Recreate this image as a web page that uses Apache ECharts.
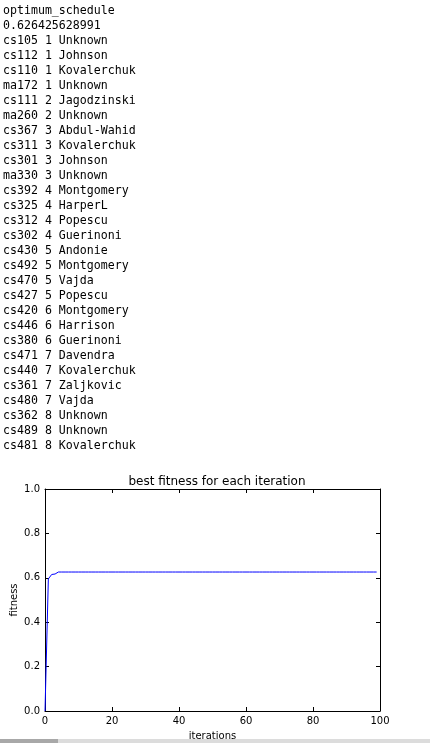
<!DOCTYPE html>
<html>
<head>
<meta charset="utf-8">
<script src="https://cdn.jsdelivr.net/npm/echarts@6/dist/echarts.min.js"></script>
<style>
html,body{margin:0;padding:0;background:#fff;width:430px;height:743px;overflow:hidden;}
#out{position:absolute;left:3px;top:3px;margin:0;font-family:"DejaVu Sans Mono","Liberation Mono",monospace;font-size:11.6px;line-height:15px;color:#000;white-space:pre;}
#chart{position:absolute;left:0;top:0;width:430px;height:743px;}
#sb{position:absolute;left:0;top:739px;width:430px;height:4px;background:#dcdcdc;}
#sbt{position:absolute;left:0;top:739px;width:58px;height:4px;background:#a8a8a8;}
</style>
</head>
<body>
<div id="chart"></div>
<pre id="out"></pre>
<div id="sb"></div><div id="sbt"></div>
<script>
// printed output
const headerLines = ["optimum_schedule", "0.626425628991"];
const courses = ["cs105","cs112","cs110","ma172","cs111","ma260","cs367","cs311","cs301","ma330","cs392","cs325","cs312","cs302","cs430","cs492","cs470","cs427","cs420","cs446","cs380","cs471","cs440","cs361","cs480","cs362","cs489","cs481"];
const slots = [1,1,1,1,2,2,3,3,3,3,4,4,4,4,5,5,5,5,6,6,6,7,7,7,7,8,8,8];
const instructors = ["Unknown","Johnson","Kovalerchuk","Unknown","Jagodzinski","Unknown","Abdul-Wahid","Kovalerchuk","Johnson","Unknown","Montgomery","HarperL","Popescu","Guerinoni","Andonie","Montgomery","Vajda","Popescu","Montgomery","Harrison","Guerinoni","Davendra","Kovalerchuk","Zaljkovic","Vajda","Unknown","Unknown","Kovalerchuk"];

// chart data
const iterations = [];
for (let i = 0; i < 100; i++) iterations.push(i);
const fitness = [0.0,0.595,0.615,0.617,0.626,0.626,0.626,0.626,0.626,0.626,
0.626,0.626,0.626,0.626,0.626,0.626,0.626,0.626,0.626,0.626,
0.626,0.626,0.626,0.626,0.626,0.626,0.626,0.626,0.626,0.626,
0.626,0.626,0.626,0.626,0.626,0.626,0.626,0.626,0.626,0.626,
0.626,0.626,0.626,0.626,0.626,0.626,0.626,0.626,0.626,0.626,
0.626,0.626,0.626,0.626,0.626,0.626,0.626,0.626,0.626,0.626,
0.626,0.626,0.626,0.626,0.626,0.626,0.626,0.626,0.626,0.626,
0.626,0.626,0.626,0.626,0.626,0.626,0.626,0.626,0.626,0.626,
0.626,0.626,0.626,0.626,0.626,0.626,0.626,0.626,0.626,0.626,
0.626,0.626,0.626,0.626,0.626,0.626,0.626,0.626,0.626,0.626];
const chartTitle = "best fitness for each iteration";
const xName = "iterations";
const yName = "fitness";

const lines = headerLines.slice();
for (let i = 0; i < courses.length; i++) lines.push(courses[i] + " " + slots[i] + " " + instructors[i]);
document.getElementById('out').textContent = lines.join("\n");

const font = "DejaVu Sans";
const chart = echarts.init(document.getElementById('chart'), null, {renderer:'canvas'});
const axisLine = {show:true, onZero:false, lineStyle:{color:'#000', width:1}};
const tick = {show:true, inside:true, length:4, lineStyle:{color:'#000'}};
chart.setOption({
  animation:false,
  title:{text:chartTitle, left:212, top:471, textAlign:'center',
    textStyle:{fontFamily:font, fontSize:12, fontWeight:'normal', color:'#000'}},
  grid:{left:45, right:50, top:489, height:222, containLabel:false, outerBoundsMode:'none'},
  xAxis:[{type:'value', min:0, max:100, interval:20, position:'bottom',
    axisLine:axisLine, axisTick:tick, splitLine:{show:false},
    axisLabel:{color:'#000', fontFamily:font, fontSize:10, margin:5},
    name:xName, nameLocation:'middle', nameGap:20,
    nameTextStyle:{color:'#000', fontFamily:font, fontSize:10}},
   {type:'value', min:0, max:100, interval:20, position:'top',
    axisLine:axisLine, axisTick:tick, splitLine:{show:false}, axisLabel:{show:false}}],
  yAxis:[{type:'value', min:0, max:1, interval:0.2, position:'left',
    axisLine:axisLine, axisTick:tick, splitLine:{show:false},
    axisLabel:{color:'#000', fontFamily:font, fontSize:10, margin:5, formatter:v=>v.toFixed(1)},
    name:yName, nameLocation:'middle', nameGap:26, nameRotate:90, nameMoveOverlap:false,
    nameTextStyle:{color:'#000', fontFamily:font, fontSize:10}},
   {type:'value', min:0, max:1, interval:0.2, position:'right',
    axisLine:axisLine, axisTick:tick, splitLine:{show:false}, axisLabel:{show:false}}],
  series:[{type:'line', xAxisIndex:0, yAxisIndex:0, showSymbol:false, symbol:'none',
    lineStyle:{color:'#0000ff', width:1}, data:iterations.map((x,i)=>[x, fitness[i]])}]
});
</script>
</body>
</html>
